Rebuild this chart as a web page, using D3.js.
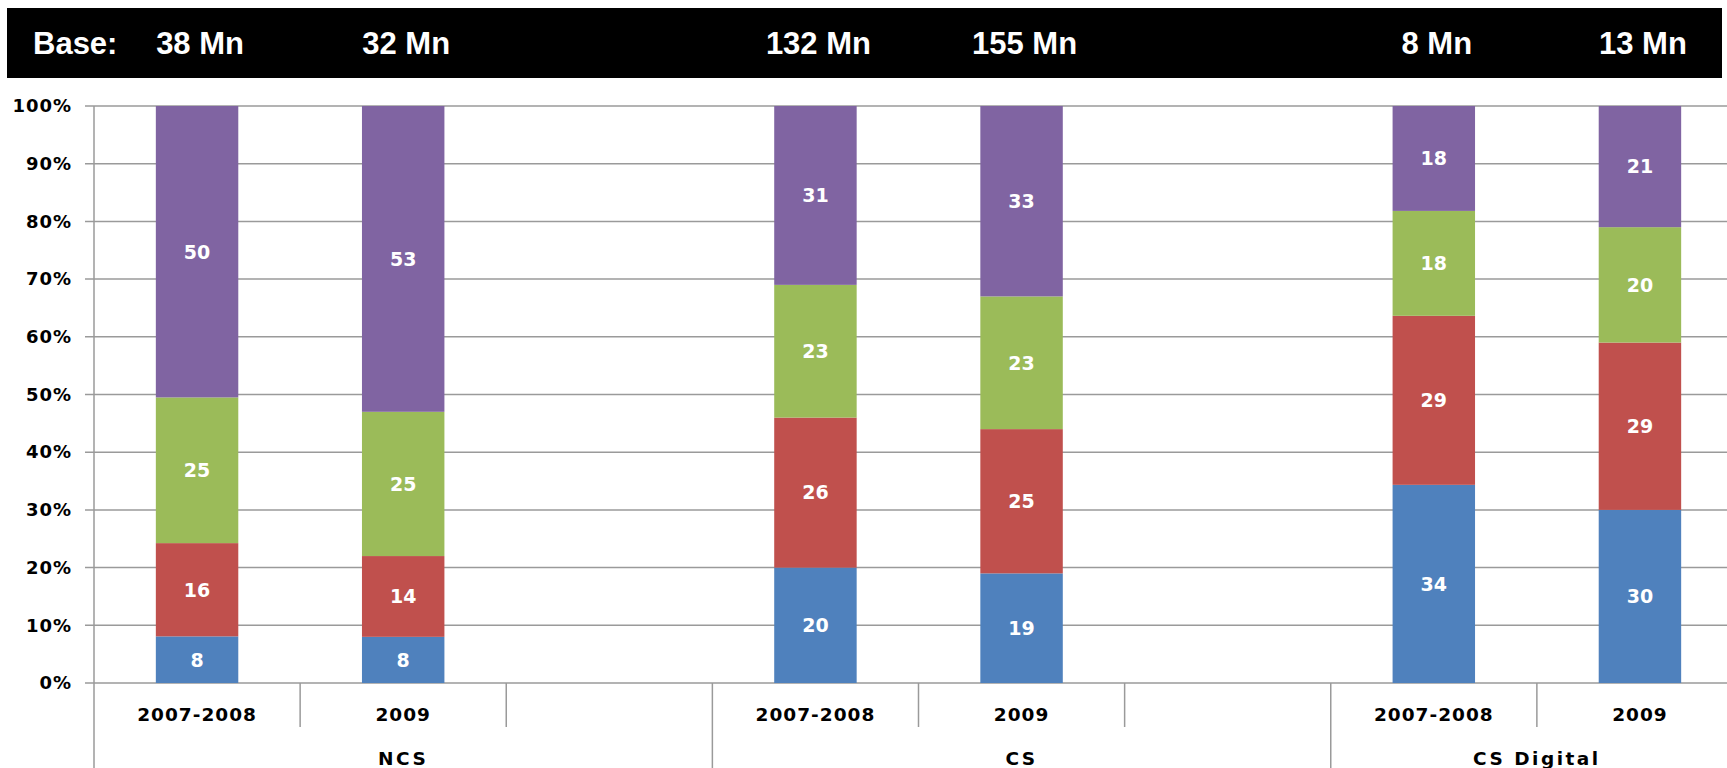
<!DOCTYPE html>
<html>
<head>
<meta charset="utf-8">
<script src="https://cdn.jsdelivr.net/npm/d3@7"></script>
<style>
body { margin: 0; background: #fff; }
svg { display: block; }
</style>
</head>
<body>
<script>
// categories along the x axis ("" = empty spacer slot)
var categories = ["2007-2008", "2009", "", "2007-2008", "2009", "", "2007-2008", "2009"];
var groupNames = ["NCS", "CS", "CS Digital"];
var groupSizes = [3, 3, 2];
var bases = ["38 Mn", "32 Mn", "", "132 Mn", "155 Mn", "", "8 Mn", "13 Mn"];

// series values, bottom to top
var blue = [8, 8, 0, 20, 19, 0, 34, 30];
var red = [16, 14, 0, 26, 25, 0, 29, 29];
var green = [25, 25, 0, 23, 23, 0, 18, 20];
var purple = [50, 53, 0, 31, 33, 0, 18, 21];

var yTicks = [0, 0.1, 0.2, 0.3, 0.4, 0.5, 0.6, 0.7, 0.8, 0.9, 1];

var seriesKeys = ["blue", "red", "green", "purple"];
var colors = { blue: "#4F81BD", red: "#C0504D", green: "#9BBB59", purple: "#8064A2" };

var w = 1727, h = 768;
var axisFont = "'DejaVu Sans', Verdana, sans-serif";

var rows = categories.map(function(c, i) {
	return { i: i, blue: blue[i], red: red[i], green: green[i], purple: purple[i] };
});

var stacked = d3.stack()
	.keys(seriesKeys)
	.offset(d3.stackOffsetExpand)(rows);

var svg = d3.select("body")
	.append("svg")
	.attr("width", w)
	.attr("height", h);

svg.append("rect").attr("width", w).attr("height", h).attr("fill", "#fff");

var xScale = d3.scaleBand()
	.domain(d3.range(categories.length))
	.range([94, 1743])
	.paddingInner(0.6)
	.paddingOuter(0.3);

var yScale = d3.scaleLinear()
	.domain([0, 1])
	.range([683, 106]);

var x0 = xScale.range()[0];
var step = xScale.step();

// banner
svg.append("rect")
	.attr("x", 7).attr("y", 8)
	.attr("width", 1715).attr("height", 70)
	.attr("fill", "#000");

svg.append("text")
	.attr("x", 33).attr("y", 54)
	.attr("font-family", "'Liberation Sans', Arial, sans-serif")
	.attr("font-size", "31px")
	.attr("font-weight", "bold")
	.attr("fill", "#fff")
	.text("Base:");

svg.selectAll("text.base")
	.data(bases)
	.enter()
	.append("text")
	.attr("class", "base")
	.attr("x", function(d, i) { return xScale(i) + xScale.bandwidth() / 2 + 3; })
	.attr("y", 54)
	.attr("text-anchor", "middle")
	.attr("font-family", "'Liberation Sans', Arial, sans-serif")
	.attr("font-size", "31px")
	.attr("font-weight", "bold")
	.attr("fill", "#fff")
	.text(function(d) { return d; });

// gridlines
svg.selectAll("line.grid")
	.data(yTicks)
	.enter()
	.append("line")
	.attr("class", "grid")
	.attr("x1", 85).attr("x2", w)
	.attr("y1", function(d) { return yScale(d); })
	.attr("y2", function(d) { return yScale(d); })
	.attr("stroke", "#9a9a9a")
	.attr("stroke-width", 1.5);

// y axis labels
var yAxis = d3.axisLeft(yScale)
	.tickValues(yTicks)
	.tickFormat(d3.format(".0%"))
	.tickSize(0)
	.tickPadding(22);

var gy = svg.append("g")
	.attr("transform", "translate(94,0)")
	.call(yAxis);
gy.select(".domain").remove();
gy.selectAll("text")
	.attr("font-family", axisFont)
	.attr("font-size", "18px")
	.attr("font-weight", "bold")
	.attr("letter-spacing", "1px")
	.attr("fill", "#000");

// bars
var layer = svg.selectAll("g.layer")
	.data(stacked)
	.enter()
	.append("g")
	.attr("class", "layer")
	.attr("fill", function(d) { return colors[d.key]; });

layer.selectAll("rect")
	.data(function(d) { return d.filter(function(p) { return p[1] > p[0]; }); })
	.enter()
	.append("rect")
	.attr("x", function(d) { return xScale(d.data.i); })
	.attr("width", xScale.bandwidth())
	.attr("y", function(d) { return yScale(d[1]); })
	.attr("height", function(d) { return yScale(d[0]) - yScale(d[1]); });

// value labels
stacked.forEach(function(s) {
	svg.selectAll("text.v-" + s.key)
		.data(s.filter(function(p) { return p[1] > p[0]; }))
		.enter()
		.append("text")
		.attr("class", "v-" + s.key)
		.attr("x", function(d) { return xScale(d.data.i) + xScale.bandwidth() / 2; })
		.attr("y", function(d) { return yScale((d[0] + d[1]) / 2); })
		.attr("dy", "0.36em")
		.attr("text-anchor", "middle")
		.attr("font-family", axisFont)
		.attr("font-size", "19px")
		.attr("font-weight", "bold")
		.attr("fill", "#fff")
		.text(function(d) { return d.data[s.key]; });
});

// axis lines
svg.append("line")
	.attr("x1", 94).attr("x2", 94)
	.attr("y1", yScale(1)).attr("y2", h)
	.attr("stroke", "#9a9a9a").attr("stroke-width", 1.5);

// category dividers: short between slots, long between groups
var groupEnds = [];
var acc = 0;
groupSizes.forEach(function(n) { acc += n; groupEnds.push(acc); });

svg.selectAll("line.div")
	.data(d3.range(1, categories.length + 1))
	.enter()
	.append("line")
	.attr("class", "div")
	.attr("x1", function(d) { return x0 + d * step; })
	.attr("x2", function(d) { return x0 + d * step; })
	.attr("y1", yScale(0))
	.attr("y2", function(d) { return groupEnds.indexOf(d) >= 0 ? h : 727; })
	.attr("stroke", "#9a9a9a")
	.attr("stroke-width", 1.5);

// category labels
svg.selectAll("text.cat")
	.data(categories)
	.enter()
	.append("text")
	.attr("class", "cat")
	.attr("x", function(d, i) { return xScale(i) + xScale.bandwidth() / 2; })
	.attr("y", 721)
	.attr("text-anchor", "middle")
	.attr("font-family", axisFont)
	.attr("font-size", "18.5px")
	.attr("font-weight", "bold")
	.attr("letter-spacing", "1px")
	.attr("fill", "#000")
	.text(function(d) { return d; });

// group labels
var starts = [0].concat(groupEnds.slice(0, -1));
svg.selectAll("text.grp")
	.data(groupNames)
	.enter()
	.append("text")
	.attr("class", "grp")
	.attr("x", function(d, i) { return x0 + (starts[i] + groupEnds[i]) / 2 * step; })
	.attr("y", 765)
	.attr("text-anchor", "middle")
	.attr("font-family", axisFont)
	.attr("font-size", "18.5px")
	.attr("font-weight", "bold")
	.attr("letter-spacing", "2.5px")
	.attr("fill", "#000")
	.text(function(d) { return d; });
</script>
</body>
</html>
